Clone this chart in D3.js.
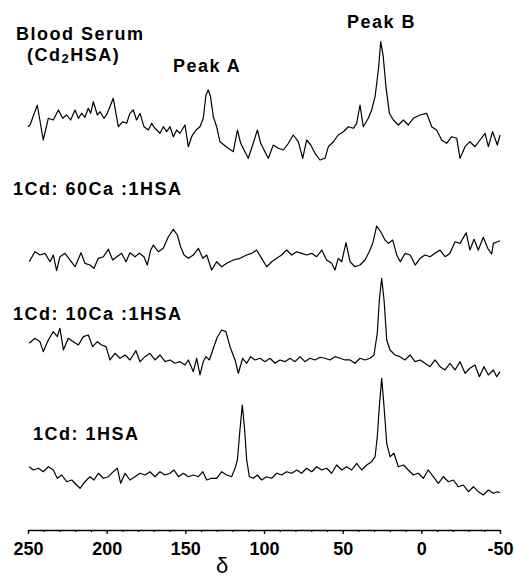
<!DOCTYPE html>
<html>
<head>
<meta charset="utf-8">
<script src="https://cdn.jsdelivr.net/npm/d3@7"></script>
<style>
  body { margin: 0; background: #fff; }
  svg { display: block; }
  .label { font-family: "Liberation Sans", Arial, sans-serif; font-weight: bold; font-size: 18px; letter-spacing: 1.5px; fill: #000; }
  .axis text { font-family: "Liberation Sans", Arial, sans-serif; font-weight: bold; font-size: 18px; fill: #000; }
</style>
</head>
<body>
<div class="chart"></div>
<script>

// trace names, top to bottom
const traceNames = ["serum", "ca60", "ca10", "hsa"];

// spectra as [delta (ppm), intensity (arb. units)]
const serum = [
  [250, 33.3], [248.7, 35], [244.1, 55], [240.3, 20], [237.1, 41.7], [233.9, 40], [230.7, 50], [228, 41.7],
  [225.4, 45], [222.9, 40], [220.1, 50], [218, 41.7], [215.9, 46.7], [213.8, 42.7], [211.7, 51.7], [210.2, 46.7],
  [208.5, 58.3], [205.9, 45], [204.2, 48.3], [201.7, 41.7], [199.6, 46.7], [195.8, 61.7], [192.6, 33.3], [189.8, 38.3],
  [187.3, 36.7], [185.2, 46.7], [183.1, 50], [181, 40], [178.8, 46.7], [176.3, 33.3], [173.5, 30], [171.4, 36.7],
  [169.3, 31.7], [166.1, 26.7], [164, 33.3], [161.9, 28.3], [159.7, 33.3], [157.6, 23.3], [155.5, 30], [153.4, 26.7],
  [150.2, 35], [148.1, 13.3], [146, 23.3], [143.2, 30], [140.7, 33.3], [138.6, 41.7], [136.9, 65], [135.4, 70],
  [134, 63.3], [132.2, 43.3], [130.1, 33.3], [128, 18.3], [125.4, 15], [122.7, 11.7], [119.5, 8.3], [116.9, 30],
  [114.8, 16.7], [112.7, 10], [110, 1.7], [107.2, 15], [104.2, 30], [102.1, 16.7], [99.4, 8.3], [97.2, 1.7],
  [94.1, 15], [90.9, 11.7], [87.7, 10], [84.5, 16.7], [81.4, 25], [78.2, 18.3], [75.4, 1.7], [72.9, 20],
  [70.3, 15], [67.6, 6.7], [64.4, 0], [61.2, 1.7], [59.1, 13.3], [55.9, 18.3], [52.8, 25], [49.6, 28.3],
  [46.4, 33.3], [43.2, 31.7], [41.1, 36.7], [39, 55], [36.9, 33.3], [33.7, 41.7], [31.6, 50], [29.4, 63.3],
  [27.3, 90], [25.8, 118.3], [24.2, 103.3], [22.5, 73.3], [20.3, 46.7], [17.8, 40], [14.6, 35], [11.4, 40],
  [8.3, 35], [5.1, 41.7], [0.8, 45], [-3.4, 46.7], [-6.6, 33.3], [-9.7, 30], [-12.9, 20], [-16.1, 16.7],
  [-19.3, 23.3], [-22.5, 21.7], [-24.6, 1.7], [-27.8, 13.3], [-30.9, 18.3], [-34.1, 13.3], [-37.3, 20], [-40.5, 26.7],
  [-42.6, 13.3], [-45.3, 28.3], [-48.3, 15], [-50, 25]
];

const ca60 = [
  [249.2, 11.6], [245.6, 21.6], [242.4, 18.3], [239.2, 20], [236, 11.6], [233.9, 18.3], [231.8, 2.6], [229.7, 16.6],
  [226.5, 20], [223.3, 13.3], [220.1, 6.6], [216.3, 20.6], [213.8, 10], [210.6, 8.3], [208.1, 5], [205.3, 15],
  [202.1, 16.6], [198.9, 24], [196.2, 13.3], [193.6, 16.6], [190.5, 20], [187.7, 11.6], [185.2, 20.6], [182, 16.6],
  [179.2, 20], [176.3, 16.6], [174.2, 8.3], [172, 23.3], [170.3, 28.3], [167.2, 21.6], [164, 25], [160.8, 36.6],
  [157.6, 44], [155.1, 38.3], [153, 26.6], [150.8, 18.3], [148.1, 15], [144.9, 18.3], [141.7, 25], [138.9, 15],
  [136.4, 18.3], [133.3, 3.3], [130.1, 11.6], [126.9, 6.6], [123.7, 10], [119.5, 13.3], [115.3, 15], [111, 18.3],
  [107.8, 20], [104.7, 23.3], [101.5, 15], [98.3, 6.6], [95.1, 11.6], [91.9, 15], [88.8, 18.3], [85.6, 23.3],
  [82.4, 18.3], [79.2, 21.6], [76.1, 20], [72.9, 18.3], [69.7, 20], [66.5, 16.6], [63.3, 23.3], [60.2, 13.3],
  [57, 10], [54.9, 3.3], [52.8, 15], [50.6, 11.6], [47.9, 30.6], [45.3, 11.6], [42.2, 6.6], [39, 8.3],
  [35.8, 13.3], [33.1, 21.6], [30.9, 30], [28.4, 47.3], [25.8, 41.6], [23.1, 33.3], [20.9, 30], [18.2, 33.3],
  [15.6, 18.3], [13.4, 11.6], [10.3, 20], [7.1, 18.3], [3.9, 8.3], [0.8, 15], [-2.3, 18.3], [-5.5, 16.6],
  [-8.7, 20], [-11.9, 23.3], [-15.1, 16.6], [-18.2, 20], [-21.4, 31.6], [-24.6, 30], [-28.5, 40.6], [-30.9, 23.3],
  [-33.5, 34], [-36.2, 23.3], [-39.4, 36], [-42.2, 25], [-44.7, 19.3], [-45.8, 30], [-48.3, 31.6], [-50, 32.6]
];

const ca10 = [
  [249.2, 43.4], [245.6, 48.4], [242.4, 45], [240.3, 35], [237.1, 46.7], [233.9, 55], [231.4, 50], [229.7, 58.4],
  [227.5, 36.7], [224.4, 48.4], [221.2, 45], [218, 41.7], [214.8, 50], [211.7, 51.7], [208.9, 40], [205.9, 45],
  [203.2, 41.7], [200.4, 40], [197.9, 26.7], [194.7, 33.4], [191.5, 28.4], [188.3, 31.7], [185.2, 26.7], [181.4, 36],
  [178.8, 25], [175.6, 30], [172.5, 33.4], [169.3, 26.7], [166.1, 31.7], [162.9, 25], [159.7, 26.7], [156.6, 23.4],
  [153.4, 25], [150.2, 21.7], [148.1, 26.7], [144.9, 15], [142.8, 28.4], [140.7, 11.7], [138.6, 25], [136.9, 30],
  [134.7, 26.7], [132.2, 38.4], [129.7, 49.4], [126.9, 56.7], [124.2, 55], [121.6, 40], [118.4, 26.7], [116.3, 13.4],
  [113.6, 28.4], [111, 23.4], [108.5, 30], [105.7, 26.7], [102.5, 28.4], [99.4, 25], [96.2, 28.4], [93, 23.4],
  [89.8, 26.7], [86.7, 25], [83.5, 28.4], [80.3, 25], [77.1, 30], [74, 25], [70.8, 28.4], [67.6, 26.7],
  [64.4, 29.4], [61.2, 28.4], [58.1, 26.7], [54.9, 30], [51.7, 28.4], [48.5, 26.7], [45.3, 26.7], [42.2, 23.4],
  [39, 28.4], [35.8, 26.7], [32.6, 28.4], [30.1, 31.7], [28, 53.4], [26.7, 86.7], [25.2, 108.4], [23.7, 86.7],
  [22, 46.7], [19.9, 36.7], [16.7, 31.7], [13.6, 30], [10.4, 26.7], [7.2, 31.7], [4, 25], [0.8, 26.7],
  [-2.3, 23.4], [-5.5, 20], [-8.7, 26.7], [-11.9, 20], [-15.1, 16.7], [-18.2, 23.4], [-21.4, 16.7], [-24.6, 25],
  [-27.8, 13.4], [-30.9, 18.4], [-34.1, 21.7], [-36.9, 10], [-39.8, 20], [-42.6, 11.7], [-45.8, 16.7], [-47.9, 10],
  [-50, 15]
];

const hsa = [
  [249.2, 33.3], [246.6, 30], [243.4, 31.7], [240.3, 28.3], [237.1, 33.3], [233.9, 30], [231.4, 21.7], [228.6, 25],
  [225.4, 18.3], [222.2, 20], [219.1, 15], [216.9, 11.7], [213.8, 18.3], [210.6, 23.3], [208.1, 20], [205.3, 26.7],
  [202.1, 21.7], [198.9, 23.3], [195.8, 28.3], [193.2, 31.7], [191.1, 16.7], [188.3, 26.7], [185.2, 20], [182, 23.3],
  [178.8, 26.7], [175.6, 25], [172.5, 28.3], [169.3, 23.3], [166.1, 28.3], [162.9, 25], [159.7, 26.7], [157.2, 30],
  [154.4, 23.3], [151.3, 26.7], [148.1, 23.3], [144.9, 25], [141.7, 23.3], [138.9, 28.3], [136.4, 20], [133.3, 21.7],
  [130.1, 21.7], [126.9, 28.3], [123.7, 25], [120.6, 23.3], [118.4, 31.7], [116.9, 40], [115.3, 70], [113.8, 95],
  [112.3, 70], [111, 40], [109.3, 23.3], [106.8, 21.7], [104.2, 25], [101.5, 20], [98.3, 23.3], [95.1, 21.7],
  [91.9, 26.7], [88.8, 25], [85.6, 28.3], [82.4, 26.7], [79.2, 30], [76.1, 26.7], [72.9, 31.7], [69.7, 28.3],
  [66.5, 33.3], [63.3, 30], [60.2, 31.7], [57, 26.7], [53.8, 35], [50.6, 30], [47.5, 33.3], [44.3, 30],
  [41.1, 36.7], [37.9, 30], [34.7, 35], [31.6, 38.3], [29.4, 43.3], [28, 63.3], [26.7, 93.3], [25.2, 121.7],
  [23.7, 93.3], [22, 56.7], [19.9, 43.3], [17.4, 46.7], [14.6, 33.3], [11.4, 35], [8.3, 30], [5.1, 25],
  [1.9, 26.7], [-1.3, 21.7], [-4.4, 30], [-7.6, 23.3], [-10.8, 16.7], [-14, 23.3], [-17.2, 18.3], [-20.3, 20],
  [-23.5, 13.3], [-26.7, 15], [-29.9, 8.3], [-33.1, 13.3], [-36.2, 8.3], [-39.4, 5], [-42.6, 10], [-45.8, 6.7],
  [-48.3, 8.3], [-50, 7.3]
];

const traces = [serum, ca60, ca10, hsa];

// axis ticks
const majorTicks = [250, 200, 150, 100, 50, 0, -50];
const minorTicks = d3.range(250, -51, -10);

const w = 514, h = 580;

const svg = d3.select(".chart")
  .append("svg")
  .attr("width", w)
  .attr("height", h);

const xScale = d3.scaleLinear()
  .domain([250, -50])   // ppm runs right to left
  .range([28, 500]);

// baseline of each stacked trace
const yOffset = d3.scalePoint()
  .domain(traceNames)
  .range([160, 500]);

const yScale = d3.scaleLinear()
  .domain([0, 120])
  .range([0, -120]);

const line = d3.line()
  .x(d => xScale(d[0]))
  .y(d => yScale(d[1]));

traces.forEach((t, i) => {
  svg.append("g")
    .attr("transform", `translate(0,${yOffset(traceNames[i])})`)
    .append("path")
    .datum(t)
    .attr("fill", "none")
    .attr("stroke", "#000")
    .attr("stroke-width", 1.2)
    .attr("stroke-linejoin", "round")
    .attr("d", line);
});

// x axis
const axisY = 530;

const minorAxis = d3.axisBottom(xScale)
  .tickValues(minorTicks)
  .tickSize(2)
  .tickSizeOuter(0)
  .tickFormat("");

svg.append("g")
  .attr("class", "axis")
  .attr("transform", `translate(0,${axisY})`)
  .call(minorAxis)
  .call(g => g.select(".domain").remove())
  .selectAll("line").attr("stroke-width", 1.2);

const xAxis = d3.axisBottom(xScale)
  .tickValues(majorTicks)
  .tickSize(4)
  .tickSizeOuter(0)
  .tickFormat(d => String(d));

const xAxisGroup = svg.append("g")
  .attr("class", "axis")
  .attr("transform", `translate(0,${axisY})`)
  .call(xAxis);

xAxisGroup.select(".domain").attr("stroke-width", 1.3);
xAxisGroup.selectAll(".tick line").attr("stroke-width", 1.3);
xAxisGroup.selectAll(".tick text")
  .attr("y", 12);
xAxisGroup.attr("font-size", null).attr("font-family", null);

// axis title
svg.append("text")
  .attr("x", 222)
  .attr("y", 573)
  .attr("text-anchor", "middle")
  .attr("font-family", "Liberation Sans, Arial, sans-serif")
  .attr("font-size", 22)
  .text("δ");

// labels
function label(x, y, txt) {
  return svg.append("text")
    .attr("class", "label")
    .attr("x", x)
    .attr("y", y)
    .text(txt);
}

label(16, 40, "Blood Serum");
const cd = svg.append("text")
  .attr("class", "label")
  .attr("x", 27)
  .attr("y", 61);
cd.append("tspan").text("(Cd");
cd.append("tspan").attr("font-size", 13).attr("dy", 2).text("2");
cd.append("tspan").attr("dy", -2).text("HSA)");

label(173, 72, "Peak A");
label(347, 28, "Peak B");
label(13, 195, "1Cd: 60Ca :1HSA");
label(13, 320, "1Cd: 10Ca :1HSA");
label(33, 440, "1Cd: 1HSA");

</script>
</body>
</html>
